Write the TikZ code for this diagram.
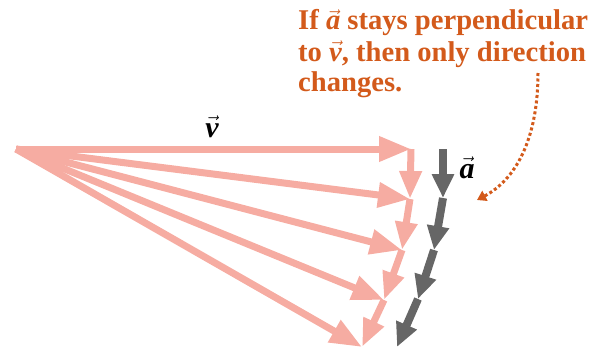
\documentclass[tikz,border=0pt]{standalone}
\usepackage{fontspec}
\setmainfont{Liberation Serif}
\usetikzlibrary{arrows.meta}
\definecolor{vpink}{HTML}{F6ACA2}
\definecolor{agray}{HTML}{666666}
\definecolor{txtorange}{HTML}{D35A1B}
\newcommand\myvec[1]{\ensuremath{\vec{\mbox{\itshape #1}}}}
\begin{document}
\begin{tikzpicture}[x=1pt,y=-1pt,
  vel/.style={draw=vpink,line width=7pt,-{Triangle[length=32pt,width=24pt]}},
  accp/.style={draw=vpink,line width=7pt,-{Triangle[length=28pt,width=21pt]}},
  accg/.style={draw=agray,line width=8pt,-{Triangle[length=24pt,width=21pt]}},
  noteline/.style={anchor=base west,inner sep=0pt,text=txtorange,font=\fontsize{28.6}{30}\selectfont\bfseries},
  veclabel/.style={anchor=base,inner sep=0pt,font=\fontsize{30}{30}\selectfont\bfseries},
  pointer/.style={draw=txtorange,line width=3pt,dash pattern=on 3pt off 2.5pt,-{Triangle[length=9pt,width=11pt]}}]
\useasboundingbox (0,0) rectangle (590,348);
% points
\coordinate (O) at (16,149);
\coordinate (P0) at (411,149);
\coordinate (P1) at (410,199);
\coordinate (P2) at (402,250);
\coordinate (P3) at (384,300);
\coordinate (P4) at (362,347);
\coordinate (G0) at (443,149);
\coordinate (G1) at (443,198);
\coordinate (G2) at (434,250);
\coordinate (G3) at (418,299);
\coordinate (G4) at (397,347);
% velocity vectors
\draw[vel] (O) -- (P0);
\draw[vel] (O) -- (P1);
\draw[vel] (O) -- (P2);
\draw[vel] (O) -- (P3);
\draw[vel] (O) -- (P4);
% pink acceleration chain
\draw[accp] (P0) -- (P1);
\draw[accp] (P1) -- (P2);
\draw[accp] (P2) -- (P3);
\draw[accp] (P3) -- (P4);
% gray acceleration chain
\draw[accg] (G0) -- (G1);
\draw[accg] (G1) -- (G2);
\draw[accg] (G2) -- (G3);
\draw[accg] (G3) -- (G4);
% labels
\node[veclabel] (vlab) at (212,137) {\myvec{v}};
\node[veclabel] (alab) at (467,178) {\myvec{a}};
% note
\node[noteline] (n1) at (298,30) {If \myvec{a} stays perpendicular};
\node[noteline] (n2) at (298,61) {to \myvec{v}, then only direction};
\node[noteline] (n3) at (298,91) {changes.};
\coordinate (ps) at (538,73);
\coordinate (pe) at (477,200);
\draw[pointer] (ps) .. controls (538,140) and (515,180) .. (pe);
\end{tikzpicture}
\end{document}
